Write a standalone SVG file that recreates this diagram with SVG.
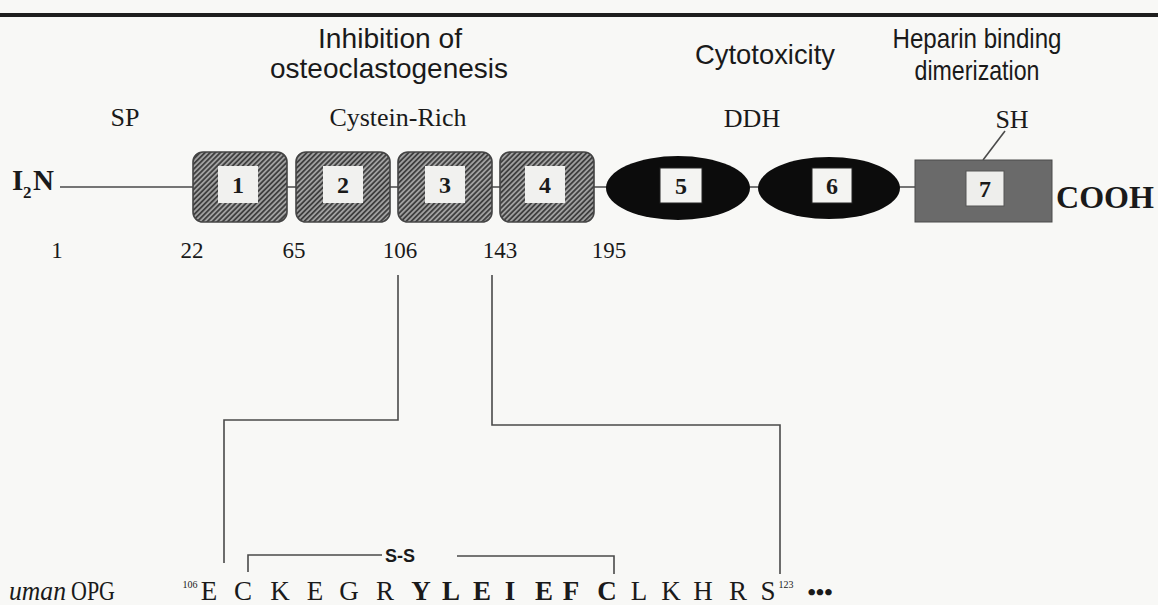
<svg xmlns="http://www.w3.org/2000/svg" width="1158" height="605" viewBox="0 0 1158 605">
<style>
.sans{font-family:"Liberation Sans",Arial,sans-serif;fill:#1a1a1a}
.serif{font-family:"Liberation Serif","Times New Roman",serif;fill:#1a1a1a}
.num{font-family:"Liberation Serif","Times New Roman",serif;font-weight:bold;font-size:24px;fill:#1a1a1a;text-anchor:middle}
.lbl{font-size:26px;text-anchor:middle}
.pos{font-size:23px;text-anchor:middle}
.seq{font-family:"Liberation Serif","Times New Roman",serif;font-size:27px;fill:#1a1a1a;text-anchor:middle}
.b{font-weight:bold}
.line{stroke:#4a4a4a;stroke-width:1.6;fill:none}
.cys{fill:url(#hatch);stroke:#444;stroke-width:1.6}
.inner{fill:#f1f1ef}
</style>
<defs>
<pattern id="hatch" width="3.6" height="3.6" patternUnits="userSpaceOnUse" patternTransform="rotate(45)">
<rect width="3.6" height="3.6" fill="#a0a0a0"/>
<line x1="0.9" y1="0" x2="0.9" y2="3.6" stroke="#333" stroke-width="1.6"/>
</pattern>
</defs>
<rect width="1158" height="605" fill="#f8f8f6"/>
<rect x="0" y="13" width="1158" height="4" fill="#1e1e1e"/>

<g id="function-labels" class="sans">
<text x="390" y="48" font-size="28" text-anchor="middle" textLength="144" lengthAdjust="spacingAndGlyphs">Inhibition of</text>
<text x="389" y="78" font-size="28" text-anchor="middle" textLength="238" lengthAdjust="spacingAndGlyphs">osteoclastogenesis</text>
<text x="765" y="64" font-size="28" text-anchor="middle" textLength="140" lengthAdjust="spacingAndGlyphs">Cytotoxicity</text>
<text x="977" y="48" font-size="28" text-anchor="middle" textLength="169" lengthAdjust="spacingAndGlyphs">Heparin binding</text>
<text x="977" y="80" font-size="28" text-anchor="middle" textLength="125" lengthAdjust="spacingAndGlyphs">dimerization</text>
</g>

<g id="domain-labels" class="serif">
<text class="lbl" x="125" y="126">SP</text>
<text class="lbl" x="398" y="126">Cystein-Rich</text>
<text class="lbl" x="752" y="127">DDH</text>
<text class="lbl" x="1012" y="128">SH</text>
</g>

<g id="connectors">
<line class="line" x1="60" y1="187" x2="915" y2="187"/>
<line class="line" x1="1005" y1="131" x2="983" y2="160"/>
<polyline class="line" points="398,275 398,420 224,420 224,563"/>
<polyline class="line" points="492,275 492,425 780,425 780,574"/>
<polyline class="line" points="248,572 248,555 382,555"/>
<polyline class="line" points="457,556 614,556 614,574"/>
</g>

<g id="n-terminus">
<text class="serif b" x="12" y="190" font-size="29">I</text>
<text class="serif b" x="23" y="198" font-size="17">2</text>
<text class="serif b" x="33" y="190" font-size="29">N</text>
</g>

<g id="domain1">
<rect class="cys" x="193" y="152" width="94" height="70" rx="10"/>
<rect class="inner" x="218" y="166" width="40" height="37"/>
<text class="num" x="238" y="193">1</text>
</g>
<g id="domain2">
<rect class="cys" x="296" y="152" width="94" height="70" rx="10"/>
<rect class="inner" x="323" y="166" width="40" height="37"/>
<text class="num" x="343" y="193">2</text>
</g>
<g id="domain3">
<rect class="cys" x="398" y="152" width="94" height="70" rx="10"/>
<rect class="inner" x="425" y="166" width="40" height="37"/>
<text class="num" x="445" y="193">3</text>
</g>
<g id="domain4">
<rect class="cys" x="500" y="152" width="94" height="70" rx="10"/>
<rect class="inner" x="525" y="166" width="40" height="37"/>
<text class="num" x="545" y="193">4</text>
</g>
<g id="domain5">
<ellipse cx="678" cy="188" rx="72" ry="32" fill="#0c0c0c"/>
<rect x="660" y="168" width="42" height="35" fill="#f4f4f2" stroke="#222" stroke-width="1"/>
<text class="num" x="681" y="194">5</text>
</g>
<g id="domain6">
<ellipse cx="829" cy="188" rx="71" ry="31" fill="#0c0c0c"/>
<rect x="812" y="168" width="40" height="35" fill="#f4f4f2" stroke="#222" stroke-width="1"/>
<text class="num" x="832" y="194">6</text>
</g>
<g id="domain7">
<rect x="915" y="160" width="137" height="62" fill="#6a6a6a" stroke="#4a4a4a" stroke-width="1"/>
<rect x="966" y="171" width="38" height="35" fill="#eeeeec" stroke="#555" stroke-width="1"/>
<text class="num" x="985" y="197">7</text>
</g>
<g id="c-terminus">
<text class="serif b" x="1056" y="208" font-size="31" textLength="98" lengthAdjust="spacingAndGlyphs">COOH</text>
</g>

<g id="positions" class="serif">
<text class="pos" x="57" y="258">1</text>
<text class="pos" x="192" y="258">22</text>
<text class="pos" x="294" y="258">65</text>
<text class="pos" x="400" y="258">106</text>
<text class="pos" x="500" y="258">143</text>
<text class="pos" x="609" y="258">195</text>
</g>

<g id="disulfide">
<text class="sans b" x="400" y="562" font-size="18" text-anchor="middle">S-S</text>
</g>

<g id="sequence">
<text class="serif" x="9" y="600" font-size="27" font-style="italic" textLength="57" lengthAdjust="spacingAndGlyphs">uman</text>
<text class="serif" x="71" y="600" font-size="27" textLength="44" lengthAdjust="spacingAndGlyphs">OPG</text>
<text class="serif" x="190" y="588" font-size="10" text-anchor="middle">106</text>
<text class="seq" x="209" y="600">E</text>
<text class="seq" x="243" y="600">C</text>
<text class="seq" x="280" y="600">K</text>
<text class="seq" x="315" y="600">E</text>
<text class="seq" x="349" y="600">G</text>
<text class="seq" x="385" y="600">R</text>
<text class="seq b" x="421" y="600">Y</text>
<text class="seq b" x="451" y="600">L</text>
<text class="seq b" x="482" y="600">E</text>
<text class="seq b" x="510" y="600">I</text>
<text class="seq b" x="544" y="600">E</text>
<text class="seq b" x="571" y="600">F</text>
<text class="seq b" x="607" y="600">C</text>
<text class="seq" x="639" y="600">L</text>
<text class="seq" x="671" y="600">K</text>
<text class="seq" x="703" y="600">H</text>
<text class="seq" x="738" y="600">R</text>
<text class="seq" x="768" y="600">S</text>
<text class="serif" x="786" y="588" font-size="10" text-anchor="middle">123</text>
<text class="serif b" x="820" y="600" font-size="24" text-anchor="middle">•••</text>
</g>
</svg>
